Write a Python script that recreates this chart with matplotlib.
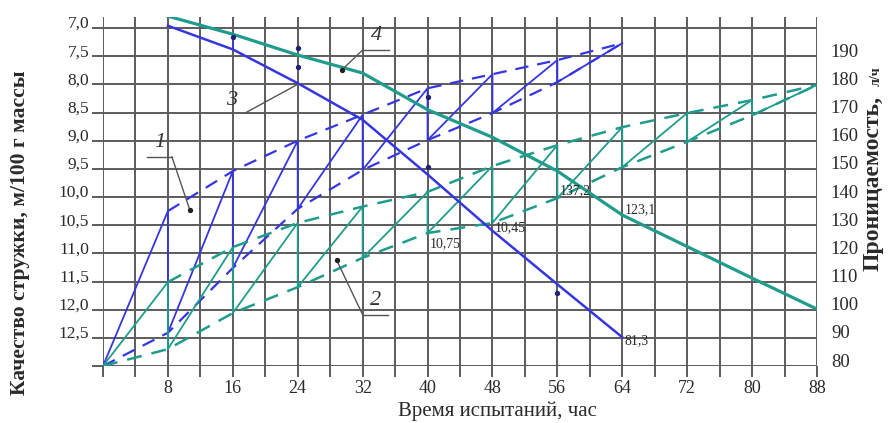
import numpy as np
import matplotlib
matplotlib.use("Agg")
import matplotlib.pyplot as plt
from matplotlib.transforms import ScaledTranslation

plt.rcParams["font.family"] = ["Liberation Serif", "DejaVu Serif"]

# Values, all on the left (quality) scale
hours1 = [0, 8, 16, 24, 32, 40, 48, 56, 64]
upper1 = [13.0, 10.25, 9.54, 9.0, 8.54, 8.07, 7.82, 7.57, 7.27]
lower1 = [13.0, 12.41, 11.26, 10.21, 9.52, 8.99, 8.51, 7.96, 7.27]

hours2 = [0, 8, 16, 24, 32, 40, 48, 56, 64, 72, 80, 88]
upper2 = [13.0, 11.51, 10.89, 10.46, 10.17, 9.91, 9.45, 9.08, 8.76, 8.51, 8.28, 8.01]
lower2 = [13.0, 12.70, 12.06, 11.6, 11.08, 10.64, 10.46, 10.02, 9.47, 9.02, 8.55, 8.01]

hours3 = [8, 16, 24, 32, 40, 48, 56, 64]
quality3 = [6.96, 7.38, 7.98, 8.63, 9.6, 10.6, 11.55, 12.49]

hours4 = [8, 16, 24, 32, 40, 48, 56, 64, 72, 80, 88]
quality4 = [6.79, 7.11, 7.48, 7.8, 8.45, 8.94, 9.54, 10.32, 10.88, 11.44, 11.99]

# scattered measurement dots
dot_hours = [16, 24, 24, 40, 40, 56]
dot_vals = [7.16, 7.36, 7.7, 8.22, 9.47, 11.7]

# value labels: (hour, value, text)
value_labels = [(64, 12.55, "81,3"), (64, 10.22, "123,1"), (56, 9.88, "137,2"),
                (40, 10.83, "10,75"), (48, 10.55, "10,45")]

left_ticks = [7.0, 7.5, 8.0, 8.5, 9.0, 9.5, 10.0, 10.5, 11.0, 11.5, 12.0, 12.5, 13.0]
right_ticks = [80, 90, 100, 110, 120, 130, 140, 150, 160, 170, 180, 190]

blue = "#3636e0"
teal = "#1f9c8c"
gridc = "#5c5c5c"
inkc = "#2a2a2a"


def sawtooth(h, up, lo):
    # solid zig-zag: rise to the upper point, drop to the lower, rise again
    xs, ys = [h[0]], [lo[0]]
    for i in range(1, len(h)):
        xs += [h[i], h[i]]
        ys += [up[i], lo[i]]
    return xs[:-1], ys[:-1]


fig = plt.figure(figsize=(8.88, 4.23), dpi=100)
ax = fig.add_axes([103 / 888, 57 / 423, 714 / 888, 349 / 423])
ytop = 7.0 - 11 / 56.33
ax.set_xlim(0, 88)
ax.set_ylim(13.0, ytop)
for s in ax.spines.values():
    s.set_visible(False)

ax.set_xticks(np.arange(0, 89, 4))
ax.set_xticklabels([str(v) if v % 8 == 0 and v > 0 else "" for v in range(0, 89, 4)])
ax.set_yticks(left_ticks)
ax.set_yticklabels([f"{v:.1f}".replace(".", ",") if v < 13 else "" for v in left_ticks])
ax.grid(True, color=gridc, lw=1.4)
ax.set_axisbelow(True)
ax.tick_params(axis="both", direction="out", length=8, width=1.4, color=gridc,
               labelcolor=inkc)
ax.tick_params(axis="x", pad=2, labelsize=13)
ax.tick_params(axis="y", pad=2, labelsize=12.5)

# curve 1 (blue) and 2 (teal) sawtooth
x, y = sawtooth(hours1, upper1, lower1)
ax.plot(x, y, color=blue, lw=1.3)
ax.plot(hours1[1:], upper1[1:], color=blue, lw=1.6, dashes=(6, 4))
ax.plot(hours1, lower1, color=blue, lw=1.6, dashes=(6, 4))

x, y = sawtooth(hours2, upper2, lower2)
ax.plot(x, y, color=teal, lw=1.3)
ax.plot(hours2[1:], upper2[1:], color=teal, lw=1.8, dashes=(6, 4))
ax.plot(hours2, lower2, color=teal, lw=1.8, dashes=(6, 4))

# curves 3 and 4
ax.plot(hours3, quality3, color=blue, lw=1.8)
ax.plot(hours4, quality4, color=teal, lw=2.3)
ax.plot([16, 16], [7.16, 7.38], color=blue, lw=1.2)
ax.scatter(dot_hours, dot_vals, s=8, color="#22227a", zorder=5)

for h, v, t in value_labels:
    ax.text(h + 0.3, v, t, fontsize=10, color=inkc, va="center", ha="left")

# numbered leaders: text, underline y, underline x0/x1, leader start, dot
leaders = [("1", 9.29, 5.4, 8.5, 8.5, (10.7, 10.23)),
           ("2", 12.09, 32.0, 35.1, 32.0, (28.8, 11.12)),
           ("4", 7.39, 32.0, 35.3, 32.0, (29.4, 7.75))]
for t, uy, x0, x1, xs, (dx, dy) in leaders:
    ax.text((x0 + x1) / 2, uy - 0.08, t, fontsize=16, style="italic", color="#333333",
            ha="center", va="bottom")
    ax.plot([x0, x1], [uy, uy], color="#555555", lw=1)
    ax.plot([xs, dx], [uy, dy], color="#555555", lw=1)
    ax.scatter([dx], [dy], s=8, color="#222222", zorder=5)
ax.text(15.9, 8.28, "3", fontsize=16, style="italic", color="#333333",
        ha="center", va="center")
ax.plot([17.5, 24], [8.51, 8.0], color="#555555", lw=1)

ax2 = ax.twinx()
ax2.set_ylim(80, 80 + (13.0 - ytop) * 20)
ax2.set_yticks(right_ticks)
for s in ax2.spines.values():
    s.set_visible(False)
ax2.tick_params(axis="y", length=0, pad=10, labelsize=13.5, labelcolor=inkc)

# tick labels on both sides sit a little above their lines
shift = ScaledTranslation(0, 6 / 100, fig.dpi_scale_trans)
for lab in ax.get_yticklabels() + ax2.get_yticklabels():
    lab.set_transform(lab.get_transform() + shift)

fig.text(497 / 888, 1 - 416 / 423, "Время испытаний, час", fontsize=15,
         color=inkc, ha="center", va="baseline")
fig.text(20 / 888, 1 - 233 / 423, "Качество стружки, м/100 г массы", rotation=90,
         fontsize=15.5, fontweight="bold", color=inkc, ha="center", va="center")
fig.text(873 / 888, 1 - 183 / 423, "Проницаемость,", rotation=90, fontsize=17,
         fontweight="bold", color=inkc, ha="center", va="center")
fig.text(876 / 888, 1 - 76 / 423, "л/ч", rotation=90, fontsize=10,
         fontweight="bold", color=inkc, ha="center", va="center")

fig.savefig("out.png", dpi=100)
